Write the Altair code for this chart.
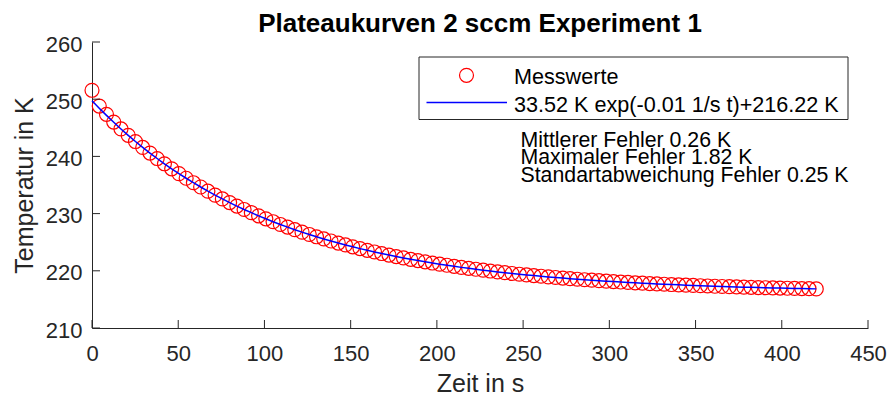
import altair as alt
import pandas as pd

# ---------------- data ----------------
times = [0, 4.2, 8.4, 12.6, 16.8, 21, 25.2, 29.4, 33.6, 37.8, 42, 46.2, 50.4, 54.6, 58.8,
         63, 67.2, 71.4, 75.6, 79.8, 84, 88.2, 92.4, 96.6, 100.8, 105, 109.2, 113.4, 117.6,
         121.8, 126, 130.2, 134.4, 138.6, 142.8, 147, 151.2, 155.4, 159.6, 163.8, 168, 172.2,
         176.4, 180.6, 184.8, 189, 193.2, 197.4, 201.6, 205.8, 210, 214.2, 218.4, 222.6, 226.8,
         231, 235.2, 239.4, 243.6, 247.8, 252, 256.2, 260.4, 264.6, 268.8, 273, 277.2, 281.4,
         285.6, 289.8, 294, 298.2, 302.4, 306.6, 310.8, 315, 319.2, 323.4, 327.6, 331.8, 336,
         340.2, 344.4, 348.6, 352.8, 357, 361.2, 365.4, 369.6, 373.8, 378, 382.2, 386.4, 390.6,
         394.8, 399, 403.2, 407.4, 411.6, 415.8, 420]

measured = [251.56, 248.8, 247.35, 246.0, 244.8, 243.68, 242.6, 241.57, 240.58, 239.63,
            238.71, 237.83, 236.99, 236.18, 235.4, 234.65, 233.92, 233.23, 232.57, 231.93,
            231.31, 230.72, 230.16, 229.61, 229.09, 228.58, 228.1, 227.64, 227.19, 226.76,
            226.35, 225.95, 225.57, 225.21, 224.85, 224.52, 224.19, 223.88, 223.58, 223.29,
            223.02, 222.75, 222.49, 222.25, 222.01, 221.79, 221.57, 221.36, 221.16, 220.97,
            220.78, 220.6, 220.43, 220.27, 220.11, 219.96, 219.81, 219.67, 219.53, 219.4,
            219.28, 219.16, 219.05, 218.93, 218.83, 218.73, 218.63, 218.53, 218.44, 218.36,
            218.27, 218.19, 218.12, 218.04, 217.97, 217.9, 217.84, 217.77, 217.71, 217.65,
            217.6, 217.54, 217.49, 217.44, 217.39, 217.35, 217.3, 217.26, 217.22, 217.18,
            217.14, 217.11, 217.07, 217.04, 217.01, 216.98, 216.95, 216.92, 216.89, 216.87,
            216.84]

fitted = [249.74, 248.43, 247.17, 245.96, 244.8, 243.68, 242.6, 241.57, 240.58, 239.63,
          238.71, 237.83, 236.99, 236.18, 235.4, 234.65, 233.92, 233.23, 232.57, 231.93,
          231.31, 230.72, 230.16, 229.61, 229.09, 228.58, 228.1, 227.64, 227.19, 226.76,
          226.35, 225.95, 225.57, 225.21, 224.85, 224.52, 224.19, 223.88, 223.58, 223.29,
          223.02, 222.75, 222.49, 222.25, 222.01, 221.79, 221.57, 221.36, 221.16, 220.97,
          220.78, 220.6, 220.43, 220.27, 220.11, 219.96, 219.81, 219.67, 219.53, 219.4,
          219.28, 219.16, 219.05, 218.93, 218.83, 218.73, 218.63, 218.53, 218.44, 218.36,
          218.27, 218.19, 218.12, 218.04, 217.97, 217.9, 217.84, 217.77, 217.71, 217.65,
          217.6, 217.54, 217.49, 217.44, 217.39, 217.35, 217.3, 217.26, 217.22, 217.18,
          217.14, 217.11, 217.07, 217.04, 217.01, 216.98, 216.95, 216.92, 216.89, 216.87,
          216.84]

x_ticks = [0, 50, 100, 150, 200, 250, 300, 350, 400, 450]
y_ticks = [210, 220, 230, 240, 250, 260]

chart_title = "Plateaukurven 2 sccm Experiment 1"
x_title = "Zeit in s"
y_title = "Temperatur in K"
legend_labels = ["Messwerte", "33.52 K exp(-0.01 1/s t)+216.22 K"]
stats_lines = ["Mittlerer Fehler 0.26 K",
               "Maximaler Fehler 1.82 K",
               "Standartabweichung Fehler 0.25 K"]

# ---------------- styling ----------------
W, H = 776, 286
FONT = "Liberation Sans"
AX = "#262626"
RED = "#FF0000"
BLUE = "#0000FF"

xs = alt.Scale(domain=[0, 450], nice=False, zero=False)
ys = alt.Scale(domain=[210, 260], nice=False, zero=False)

df = pd.DataFrame({"t": times, "T": measured, "F": fitted})

x_axis = alt.Axis(
    title=x_title, values=x_ticks, format="d", grid=False, ticks=False,
    domainColor=AX, domainWidth=1, labelColor=AX, labelFont=FONT, labelFontSize=22,
    labelPadding=15, labelFlush=False, labelOverlap=False,
    titleFont=FONT, titleFontSize=25, titleFontWeight="normal", titleColor=AX,
    titleX=W / 2, titleY=63, titleBaseline="alphabetic", titleAlign="center",
)
y_axis = alt.Axis(
    title=y_title, values=y_ticks, format="d", grid=False, ticks=False,
    domainColor=AX, domainWidth=1, labelColor=AX, labelFont=FONT, labelFontSize=22,
    labelPadding=10, labelOffset=2, labelBaseline="middle", labelFlush=False,
    labelOverlap=False,
    titleFont=FONT, titleFontSize=25, titleFontWeight="normal", titleColor=AX,
    titleX=-60, titleY=H / 2, titleAngle=-90, titleBaseline="alphabetic",
    titleAlign="center",
)

points = alt.Chart(df).mark_point(
    shape="circle", filled=False, color=RED, size=195, strokeWidth=1.2, opacity=1
).encode(
    x=alt.X("t:Q", scale=xs, axis=x_axis),
    y=alt.Y("T:Q", scale=ys, axis=y_axis),
)

fit_line = alt.Chart(df).mark_line(color=BLUE, strokeWidth=1.5).encode(
    x=alt.X("t:Q", scale=xs, axis=x_axis),
    y=alt.Y("F:Q", scale=ys, axis=y_axis),
)

# inward-pointing ticks (MATLAB style)
xt = alt.Chart(pd.DataFrame({"v": x_ticks})).mark_rule(color=AX, strokeWidth=1).encode(
    x=alt.X("v:Q", scale=xs, axis=x_axis),
    y=alt.value(H), y2=alt.value(H - 8),
)
yt = alt.Chart(pd.DataFrame({"w": y_ticks})).mark_rule(color=AX, strokeWidth=1).encode(
    y=alt.Y("w:Q", scale=ys, axis=y_axis),
    x=alt.value(0), x2=alt.value(8),
)

one = pd.DataFrame({"a": [0]})

legend_box = alt.Chart(one).mark_rect(fill="white", stroke=AX, strokeWidth=1).encode(
    x=alt.value(327), x2=alt.value(756), y=alt.value(15), y2=alt.value(77.5)
)
legend_circle = alt.Chart(one).mark_point(
    shape="circle", filled=False, color=RED, size=195, strokeWidth=1.2, opacity=1
).encode(x=alt.value(374.5), y=alt.value(33.3))
legend_line = alt.Chart(one).mark_rule(color=BLUE, strokeWidth=1.5).encode(
    x=alt.value(334.5), x2=alt.value(415), y=alt.value(60.6)
)

text_layers = []
for i, lab in enumerate(legend_labels):
    text_layers.append(
        alt.Chart(one).mark_text(
            align="left", baseline="alphabetic", font=FONT, fontSize=21.6, color="black"
        ).encode(x=alt.value(422), y=alt.value(41.6 + 28.4 * i), text=alt.value(lab))
    )
for i, lab in enumerate(stats_lines):
    text_layers.append(
        alt.Chart(one).mark_text(
            align="left", baseline="alphabetic", font=FONT, fontSize=21.3, color="black"
        ).encode(x=alt.value(428.5), y=alt.value(104.5 + 17.8 * i), text=alt.value(lab))
    )

title_layer = alt.Chart(one).mark_text(
    align="center", baseline="alphabetic", font=FONT, fontSize=26, fontWeight="bold",
    color="black"
).encode(x=alt.value(W / 2), y=alt.value(-10.5), text=alt.value(chart_title))

chart = alt.layer(
    points, fit_line, xt, yt, legend_box, legend_circle, legend_line, title_layer,
    *text_layers
).properties(
    width=W,
    height=H,
    autosize=alt.AutoSizeParams(type="none"),
    padding={"left": 92, "top": 42, "right": 20, "bottom": 68},
    background="white",
).configure_view(stroke=None)

chart.save("out.html", embed_options={"renderer": "svg", "actions": False})
